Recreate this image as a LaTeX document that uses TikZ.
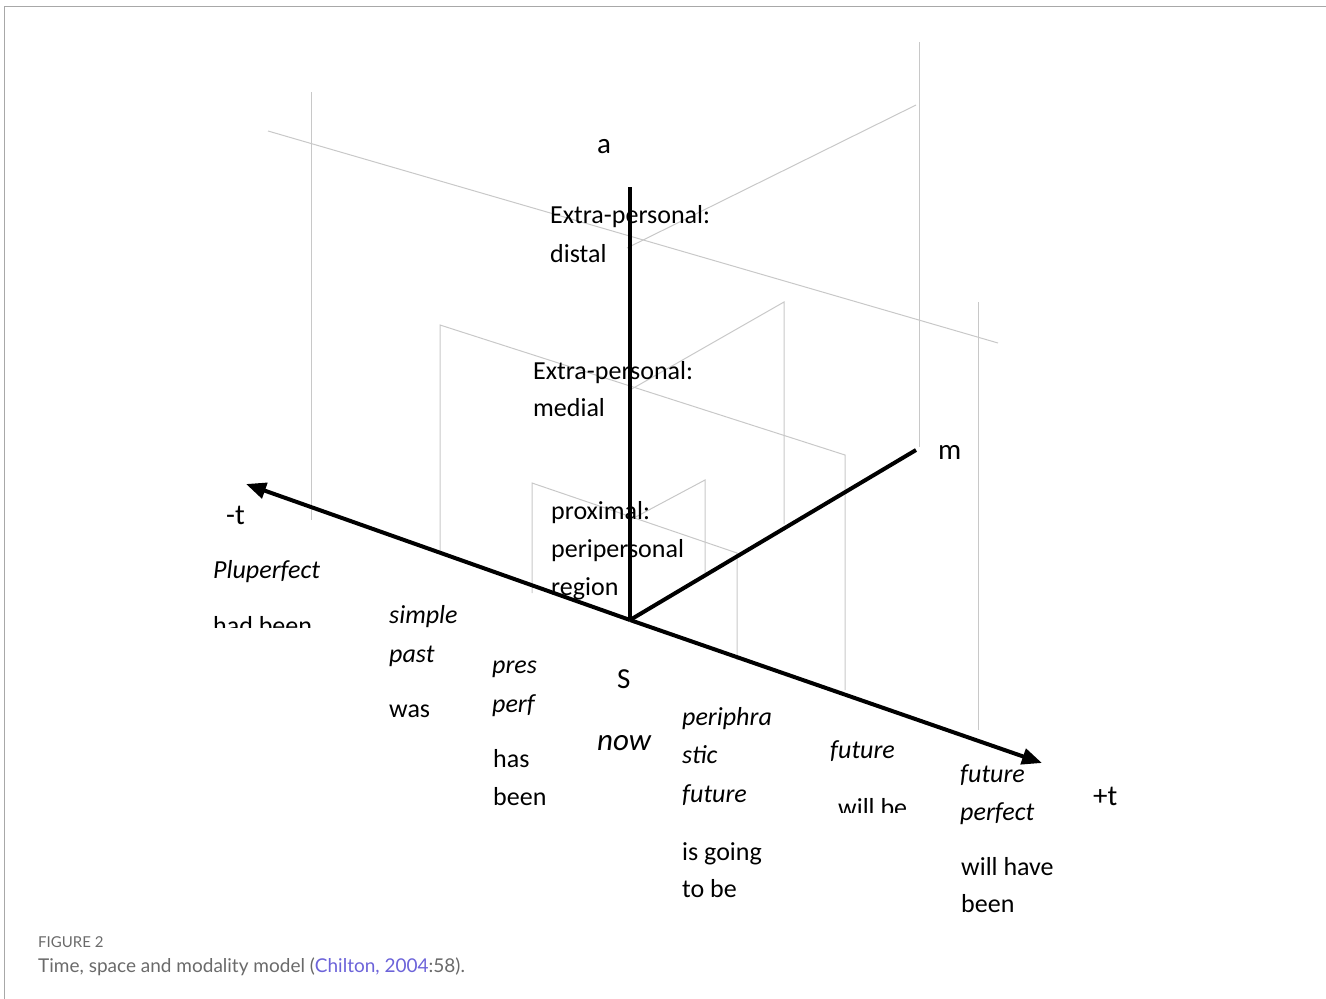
\documentclass[tikz,border=0pt]{standalone}
\usepackage{fontspec}
\setmainfont{Carlito}
\newfontfamily\capfont{Lato}
\usetikzlibrary{arrows.meta}
\definecolor{gridgray}{HTML}{C8C8C8}
\definecolor{framegray}{HTML}{A8A8A8}
\definecolor{capgray}{HTML}{6A6A6A}
\definecolor{linkblue}{HTML}{6C63D9}
\begin{document}
\begin{tikzpicture}[x=1pt,y=-1pt,
  grid/.style={draw=gridgray, line width=1pt},
  axis/.style={draw=black, line width=4pt},
  axisarrow/.style={axis, -{Triangle[length=20pt,width=16pt]}},
  lbl/.style={anchor=base west, inner sep=0pt, font=\fontsize{26}{30}\selectfont},
  ilbl/.style={lbl, font=\fontsize{26}{30}\selectfont\itshape},
  axlbl/.style={anchor=base west, inner sep=0pt, font=\fontsize{29}{32}\selectfont}
]
\useasboundingbox (0,0) rectangle (1326,999);
% frame
\draw[framegray, line width=1.5pt] (4.5,999) -- (4.5,6.5) -- (1326,6.5);

% distal plane
\draw[grid] (311,92) -- (311,520);
\draw[grid] (268,131) -- (998,343);
\draw[grid] (627,248) -- (916,105);
\draw[grid] (919,42) -- (919,447);
\draw[grid] (978,302) -- (978,730);
% medial plane
\draw[grid] (440,553) -- (440,325) -- (845,455) -- (845,690);
\draw[grid] (630,390) -- (784,302) -- (784,524);
% proximal plane
\draw[grid] (532,593) -- (532,483) -- (737,553) -- (737,660);
\draw[grid] (630,520) -- (705,480) -- (705,573);

% axes
\coordinate (S) at (630,620);
\coordinate (A) at (630,187);
\coordinate (M) at (916,450);
\coordinate (Tm) at (246,484);
\coordinate (Tp) at (1042,763);
\draw[axis] (S) -- (A);
\draw[axis] (S) -- (M);
\draw[axisarrow] (S) -- (Tm);
\draw[axisarrow] (S) -- (Tp);

% axis labels
\node[axlbl] (la) at (597,153) {a};
\node[axlbl] (lm) at (938,459) {m};
\node[axlbl] (ltm) at (226,524) {-t};
\node[axlbl] (ltp) at (1093,805) {+t};
\node[axlbl] (lS) at (617,688) {S};

% space labels
\node[lbl] (d1) at (550,223) {Extra-personal:};
\node[lbl] (d2) at (550,262) {distal};
\node[lbl] (m1) at (533,379) {Extra-personal:};
\node[lbl] (m2) at (533,416) {medial};
\node[lbl] (p1) at (551,519) {proximal:};
\node[lbl] (p2) at (551,557) {peripersonal};
\node[lbl] (p3) at (551,595) {region};

% tense labels
\node[ilbl] (plu) at (213,578) {Pluperfect};
\begin{scope}
\clip (200,600) rectangle (340,627);
\node[lbl] (hadbeen) at (213,634) {had been};
\end{scope}
\node[ilbl] (sp1) at (389,623) {simple};
\node[ilbl] (sp2) at (389,662) {past};
\node[lbl] (was) at (389,717) {was};
\node[ilbl] (pp1) at (492,673) {pres};
\node[ilbl] (pp2) at (492,712) {perf};
\node[lbl] (has1) at (493,767) {has};
\node[lbl] (has2) at (493,805) {been};
\node[anchor=base west, inner sep=0pt, font=\fontsize{31}{34}\selectfont\itshape] (now) at (597,750) {now};
\node[ilbl] (pf1) at (682,725) {periphra};
\node[ilbl] (pf2) at (682,763) {stic};
\node[ilbl] (pf3) at (682,802) {future};
\node[lbl] (ig1) at (682,860) {is going};
\node[lbl] (ig2) at (682,897) {to be};
\node[ilbl] (fut) at (830,758) {future};
\begin{scope}
\clip (820,790) rectangle (930,812.5);
\node[lbl] (willbe) at (838,816) {will be};
\end{scope}
\node[ilbl] (fp1) at (960,782) {future};
\node[ilbl] (fp2) at (960,820) {perfect};
\node[lbl] (wh1) at (961,875) {will have};
\node[lbl] (wh2) at (961,912) {been};

% caption
\node[anchor=base west, inner sep=0pt, font=\capfont\fontsize{15}{18}\selectfont, text=capgray] (fig) at (38,947) {FIGURE 2};
\node[anchor=base west, inner sep=0pt, font=\capfont\fontsize{19}{22}\selectfont, text=capgray] (cap) at (38,972) {Time, space and modality model (\textcolor{linkblue}{Chilton, 2004}:58).};
\end{tikzpicture}
\end{document}
